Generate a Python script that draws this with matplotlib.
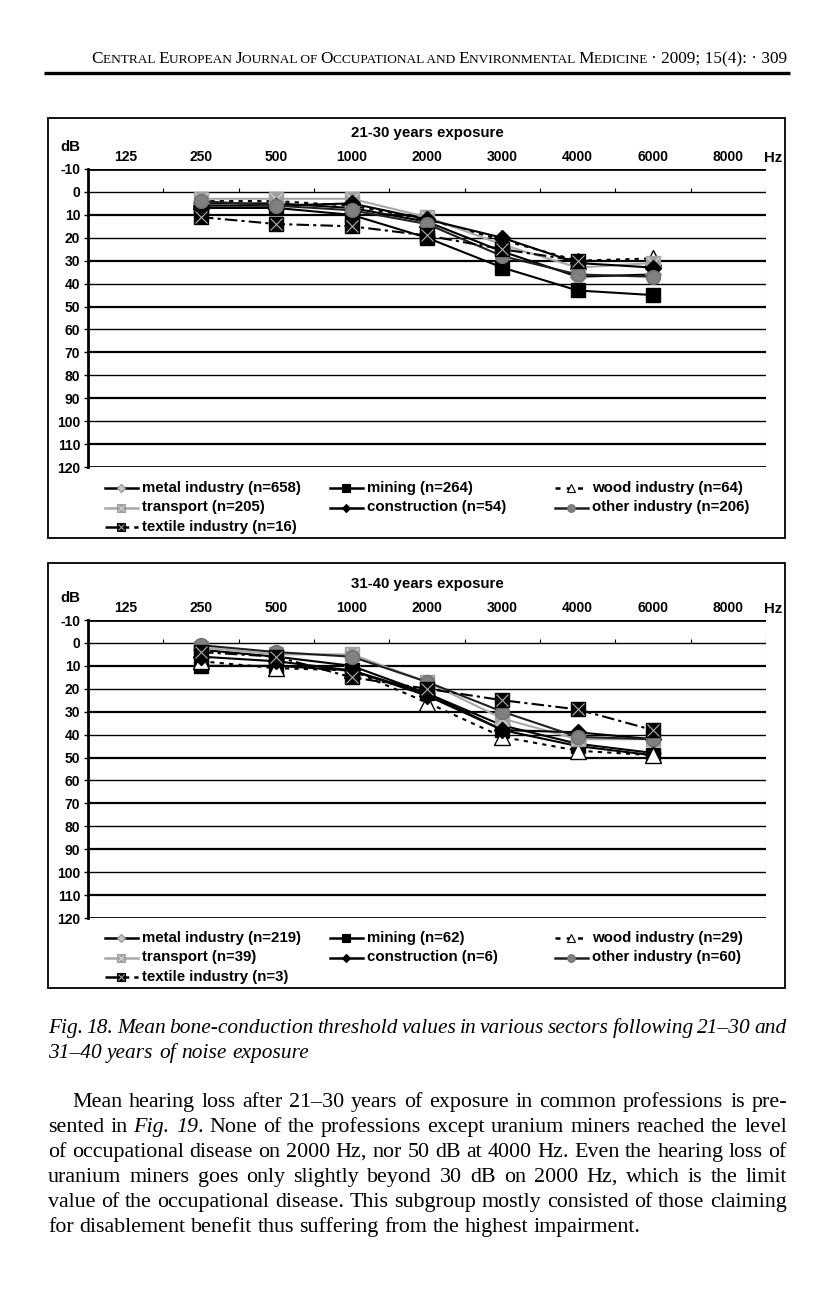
import numpy as np
import matplotlib
matplotlib.use("Agg")
from matplotlib import pyplot as plt
from matplotlib.lines import Line2D
from matplotlib.patches import Rectangle

W, H = 834, 1294
SANS = "Liberation Sans"
SERIF = "Liberation Serif"

FREQS = ["125", "250", "500", "1000", "2000", "3000", "4000", "6000", "8000"]
MEASURED = ["250", "500", "1000", "2000", "3000", "4000", "6000"]
SECTORS = ["metal industry", "mining", "wood industry", "transport",
           "construction", "other industry", "textile industry"]

# 21-30 years exposure, threshold in dB
N_21 = [658, 264, 64, 205, 54, 206, 16]
METAL_21 = [5, 5, 7, 13, 26, 37, 36]
MINING_21 = [7, 7, 10, 20, 33, 43, 45]
WOOD_21 = [4, 4, 6, 12, 21, 30, 29]
TRANSPORT_21 = [3, 3, 3, 11, 23, 33, 31]
CONSTRUCTION_21 = [6, 6, 5, 12, 20, 31, 33]
OTHER_21 = [4, 6, 8, 14, 28, 36, 37]
TEXTILE_21 = [11, 14, 15, 19, 25, 30, np.nan]

# 31-40 years exposure
N_31 = [219, 62, 29, 39, 6, 60, 3]
METAL_31 = [3, 6, 10, 22, 36, 44, 48]
MINING_31 = [10, 10, 12, 22, 38, 45, 49]
WOOD_31 = [8, 11, 12, 26, 41, 47, 49]
TRANSPORT_31 = [2, 5, 5, 17, 33, 42, 42]
CONSTRUCTION_31 = [6, 8, 12, 23, 38, 39, 42]
OTHER_31 = [1, 4, 6, 17, 30, 41, 42]
TEXTILE_31 = [4, 6, 15, 20, 25, 29, 38]

STYLES = {
    "metal industry": dict(color="black", ls="-", marker="D", ms=8, mfc="#c8c8c8", mec="#909090"),
    "mining": dict(color="black", ls="-", marker="s", ms=10, mfc="black", mec="black"),
    "wood industry": dict(color="black", ls=(0, (2, 2.5)), marker="^", ms=11, mfc="white", mec="black"),
    "transport": dict(color="#a8a8a8", ls="-", marker="s", ms=10, mfc="#a0a0a0", mec="#a0a0a0", cross="#d8d8d8"),
    "construction": dict(color="black", ls="-", marker="D", ms=8, mfc="black", mec="black"),
    "other industry": dict(color="#202020", ls="-", marker="o", ms=10, mfc="#808080", mec="#707070"),
    "textile industry": dict(color="black", ls=(0, (6, 2, 1.5, 2)), marker="s", ms=10, mfc="black", mec="black", cross="#b0b0b0"),
}

CHART_FS = 10
LEGEND_FS = 10.8


def fx(x):
    return x / W


def fy(y):
    return 1 - y / H


def draw_chart(fig, page, y_top, title, groups, counts, leg_y):
    dy = y_top - 169
    ax = fig.add_axes([fx(88), fy(y_top + 298), (766 - 88) / W, 298 / H])
    ax.set_facecolor("none")
    ax.set_xlim(-0.5, 8.5)
    ax.set_ylim(120, -10)
    for v in range(-10, 121, 10):
        if v in (-10, 120):
            lw = 2.0
        elif v % 20 == 10:
            lw = 1.6
        else:
            lw = 1.0
        ax.axhline(v, color="black", lw=lw, zorder=1)
    ax.axvline(8.5, color="#909090", lw=0.8)
    ax.vlines(np.arange(0.5, 9, 1), -1.8, 0, color="black", lw=0.8)
    for s in ["top", "right", "bottom"]:
        ax.spines[s].set_visible(False)
    ax.spines["left"].set_linewidth(2.0)

    ax.xaxis.tick_top()
    ax.set_xticks(range(len(FREQS)))
    ax.set_xticklabels(FREQS, fontweight="bold", fontsize=CHART_FS, family=SANS)
    ax.tick_params(axis="x", length=0, pad=3.5)
    ticks = list(range(-10, 121, 10))
    ax.set_yticks(ticks)
    ax.set_yticklabels([str(t) for t in ticks], fontweight="bold", fontsize=CHART_FS, family=SANS)
    ax.tick_params(axis="y", direction="out", length=3, width=1, pad=2.5)

    x = [FREQS.index(f) for f in MEASURED]
    for name, vals in zip(SECTORS, groups):
        st = STYLES[name]
        ax.plot(x, vals, color=st["color"], ls=st["ls"], lw=1.5, marker=st["marker"],
                ms=st["ms"], mfc=st["mfc"], mec=st["mec"], mew=1, zorder=3)
        if "cross" in st:
            ax.plot(x, vals, ls="none", marker="x", ms=st["ms"] * 0.8, mec=st["cross"],
                    mew=0.8, zorder=3)

    # page decorations around the chart
    page.text(427, 133 + dy, title, ha="center", va="center", fontsize=LEGEND_FS,
              fontweight="bold", family=SANS)
    page.text(70, 147 + dy, "dB", ha="center", va="center", fontsize=LEGEND_FS,
              fontweight="bold", family=SANS)
    page.text(773, 158 + dy, "Hz", ha="center", va="center", fontsize=LEGEND_FS,
              fontweight="bold", family=SANS)

    for i, (name, n) in enumerate(zip(SECTORS, counts)):
        st = STYLES[name]
        row, col = divmod(i, 3)
        xx = 105 + col * 225
        yy = leg_y + row * 19.5
        page.add_line(Line2D([xx, xx + 16, xx + 33], [yy, yy, yy], color=st["color"],
                             ls=st["ls"], lw=1.8, marker=st["marker"], markevery=[1],
                             ms=st["ms"] * 0.55, mfc=st["mfc"], mec=st["mec"], mew=0.8))
        if "cross" in st:
            page.add_line(Line2D([xx + 16], [yy], ls="none", marker="x",
                                 ms=st["ms"] * 0.45, mec=st["cross"], mew=0.7))
        page.text(xx + 37, yy, f"{name} (n={n})", ha="left", va="center",
                  fontsize=LEGEND_FS, fontweight="bold", family=SANS)
    return ax


def text_width(page, r, s, **kw):
    t = page.text(0, 0, s, **kw)
    w = t.get_window_extent(r).width
    t.remove()
    return w


def parse_words(line):
    words = [[]]
    for k, part in enumerate(line.split("*")):
        italic = k % 2 == 1
        for j, p in enumerate(part.split(" ")):
            if j > 0:
                words.append([])
            if p:
                words[-1].append((p, italic))
    return [w for w in words if w]


def draw_line(page, r, line, x0, x1, y, size, justify, base_italic=False):
    words = parse_words(line)
    widths = []
    for w in words:
        ws = []
        for s, it in w:
            style = "italic" if (it != base_italic) else "normal"
            ws.append(text_width(page, r, s, fontsize=size, family=SERIF, fontstyle=style))
        widths.append(ws)
    space = (text_width(page, r, "a a", fontsize=size, family=SERIF)
             - text_width(page, r, "aa", fontsize=size, family=SERIF))
    total = sum(sum(ws) for ws in widths)
    gap = (x1 - x0 - total) / (len(words) - 1) if justify else space
    x = x0
    for w, ws in zip(words, widths):
        for (s, it), wd in zip(w, ws):
            style = "italic" if (it != base_italic) else "normal"
            page.text(x, y, s, fontsize=size, family=SERIF, fontstyle=style,
                      va="baseline", ha="left")
            x += wd
        x += gap


def draw_smallcaps(page, r, runs, x_right, y):
    widths = [text_width(page, r, s, fontsize=sz, family=SERIF) for s, sz in runs]
    x = x_right - sum(widths)
    for (s, sz), wd in zip(runs, widths):
        page.text(x, y, s, fontsize=sz, family=SERIF, va="baseline", ha="left")
        x += wd


fig = plt.figure(figsize=(W / 100, H / 100), dpi=100)
fig.patch.set_facecolor("white")
page = fig.add_axes([0, 0, 1, 1])
page.set_xlim(0, W)
page.set_ylim(H, 0)
page.axis("off")
r = fig.canvas.get_renderer()

# header
BIG, SMALL = 12.4, 9.6
header = [("C", BIG), ("ENTRAL ", SMALL), ("E", BIG), ("UROPEAN ", SMALL),
          ("J", BIG), ("OURNAL OF ", SMALL), ("O", BIG), ("CCUPATIONAL AND ", SMALL),
          ("E", BIG), ("NVIRONMENTAL ", SMALL), ("M", BIG), ("EDICINE ", SMALL),
          ("\u00b7 2009; 15(4): \u00b7 309", BIG)]
draw_smallcaps(page, r, header, 787, 63)
page.plot([44, 790], [73, 73], color="black", lw=2.4, solid_capstyle="butt")

# chart frames
page.add_patch(Rectangle((48, 118), 737, 420, fill=False, ec="black", lw=1.3))
page.add_patch(Rectangle((48, 563), 737, 425, fill=False, ec="black", lw=1.3))

draw_chart(fig, page, 169, "21-30 years exposure",
           [METAL_21, MINING_21, WOOD_21, TRANSPORT_21, CONSTRUCTION_21, OTHER_21, TEXTILE_21],
           N_21, 488)
draw_chart(fig, page, 620, "31-40 years exposure",
           [METAL_31, MINING_31, WOOD_31, TRANSPORT_31, CONSTRUCTION_31, OTHER_31, TEXTILE_31],
           N_31, 938)

# caption
CAP_SIZE = 15.4
draw_line(page, r, "Fig. 18. Mean bone-conduction threshold values in various sectors following 21\u201330 and",
          48, 787, 1033, CAP_SIZE, True, base_italic=True)
draw_line(page, r, "31\u201340 years of noise exposure", 48, 787, 1058, CAP_SIZE, False, base_italic=True)

SIZE = 15.8
body = [
    ("Mean hearing loss after 21\u201330 years of exposure in common professions is pre-", 72, True),
    ("sented in *Fig. 19*. None of the professions except uranium miners reached the level", 48, True),
    ("of occupational disease on 2000 Hz, nor 50 dB at 4000 Hz. Even the hearing loss of", 48, True),
    ("uranium miners goes only slightly beyond 30 dB on 2000 Hz, which is the limit", 48, True),
    ("value of the occupational disease. This subgroup mostly consisted of those claiming", 48, True),
    ("for disablement benefit thus suffering from the highest impairment.", 48, False),
]
for k, (line, x0, just) in enumerate(body):
    draw_line(page, r, line, x0, 787, 1107 + 25 * k, SIZE, just)

fig.savefig("out.png", dpi=100, facecolor="white")
